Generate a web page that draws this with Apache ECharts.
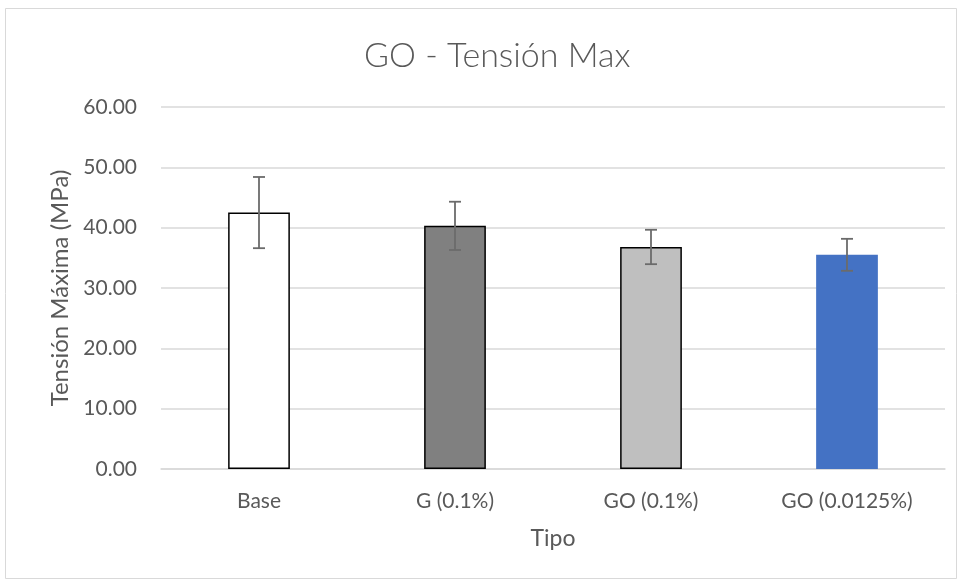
<!DOCTYPE html>
<html>
<head>
<meta charset="utf-8">
<script src="https://cdn.jsdelivr.net/npm/echarts@6/dist/echarts.min.js"></script>
<style>html,body{margin:0;padding:0;background:#fff;}#c{width:960px;height:583px;}</style>
</head>
<body>
<div id="c"></div>
<script>
const categories = ['Base', 'G (0.1%)', 'GO (0.1%)', 'GO (0.0125%)'];
const values = [42.5, 40.3, 36.8, 35.5];
const errors = [5.9, 4.0, 2.85, 2.65];
const yTicks = [0, 10, 20, 30, 40, 50, 60];
const fills = ['#ffffff', '#808080', '#bfbfbf', '#4472c4'];
const borders = ['#000000', '#000000', '#000000', null];

const FONT = 'Lato';
const chart = echarts.init(document.getElementById('c'), null, {renderer: 'canvas'});
const barData = values.map((v, i) => ({
  value: v,
  itemStyle: {
    color: fills[i],
    borderColor: borders[i] || fills[i],
    borderWidth: borders[i] ? 1.5 : 0
  }
}));
const errData = values.map((v, i) => [i, v - errors[i], v + errors[i]]);

chart.setOption({
  animation: false,
  backgroundColor: '#ffffff',
  graphic: [{
    type: 'rect', shape: {x: 5.5, y: 8.5, width: 951, height: 570},
    style: {fill: 'none', stroke: '#d9d9d9', lineWidth: 1}, z: -1
  }],
  title: {
    text: 'GO - Tensión Max', left: 359, top: 34,
    textStyle: {fontFamily: FONT, fontWeight: 300, fontSize: 34, color: '#595959'}
  },
  grid: {left: 161, right: 15, top: 107, bottom: 114},
  xAxis: {
    type: 'category', data: categories,
    name: 'Tipo', nameLocation: 'middle', nameGap: 58,
    nameTextStyle: {fontFamily: FONT, fontSize: 23, color: '#595959'},
    axisLine: {lineStyle: {color: '#d9d9d9', width: 1.5}},
    axisTick: {show: false},
    axisLabel: {fontFamily: FONT, fontSize: 21, color: '#595959', margin: 22}
  },
  yAxis: {
    type: 'value', min: 0, max: 60, interval: 10,
    name: 'Tensión Máxima (MPa)', nameLocation: 'middle', nameGap: 88,
    nameTextStyle: {fontFamily: FONT, fontSize: 24, color: '#595959'},
    axisLine: {show: false}, axisTick: {show: false},
    axisLabel: {fontFamily: FONT, fontSize: 21, color: '#595959', margin: 24,
      formatter: v => yTicks.includes(v) ? v.toFixed(2) : ''},
    splitLine: {lineStyle: {color: '#d9d9d9', width: 1.5}}
  },
  series: [{
    type: 'bar', data: barData, barWidth: '31.5%'
  }, {
    type: 'custom', data: errData, z: 10,
    renderItem: function (params, api) {
      const x = api.value(0);
      const lo = api.coord([x, api.value(1)]);
      const hi = api.coord([x, api.value(2)]);
      const cw = 6;
      const st = {stroke: '#6b6b6b', lineWidth: 1.8};
      return {type: 'group', children: [
        {type: 'line', shape: {x1: lo[0], y1: lo[1], x2: hi[0], y2: hi[1]}, style: st},
        {type: 'line', shape: {x1: lo[0] - cw, y1: lo[1], x2: lo[0] + cw, y2: lo[1]}, style: st},
        {type: 'line', shape: {x1: hi[0] - cw, y1: hi[1], x2: hi[0] + cw, y2: hi[1]}, style: st}
      ]};
    }
  }]
});
</script>
</body>
</html>
